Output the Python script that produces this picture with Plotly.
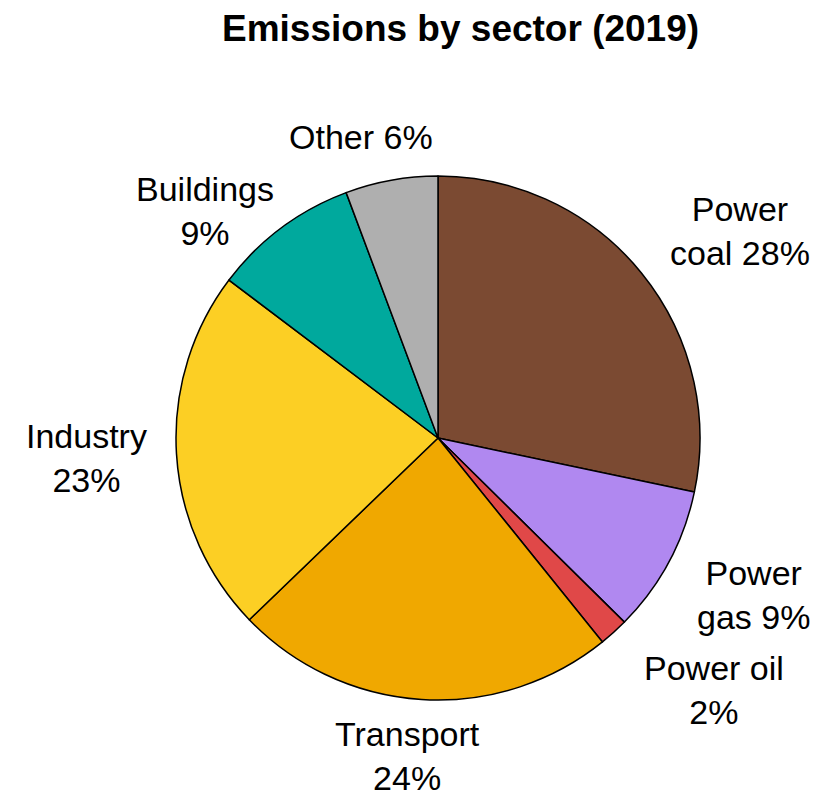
import plotly.graph_objects as go

sectors = ["Power coal", "Power gas", "Power oil", "Transport", "Industry", "Buildings", "Other"]
values = [28.3, 9.1, 1.8, 23.6, 22.5, 9.0, 5.7]
label_text = ["Power<br>coal 28%", "Power<br>gas 9%", "Power oil<br>2%", "Transport<br>24%",
              "Industry<br>23%", "Buildings<br>9%", "Other 6%"]
colors = ["#7B4A32", "#B088F0", "#E04848", "#F0A800", "#FCCF24", "#00A99D", "#AFAFAF"]

W, H = 828, 799
label_pos = [(740, 231), (753, 595), (714, 690), (407, 756), (86, 458), (205, 211), (361, 137)]

cx, cy, r = 438, 438, 262

fig = go.Figure(go.Pie(
    labels=sectors, values=values, sort=False, direction="clockwise", rotation=0,
    marker=dict(colors=colors, line=dict(color="black", width=1.5)),
    textinfo="none", hoverinfo="label+percent", showlegend=False,
    domain=dict(x=[(cx - r) / W, (cx + r) / W], y=[(H - cy - r) / H, (H - cy + r) / H]),
))

annotations = [dict(text="<b>Emissions by sector (2019)</b>", x=460 / W, y=1 - 28 / H,
                    xref="paper", yref="paper", showarrow=False,
                    font=dict(size=37, color="black"), xanchor="center", yanchor="middle")]
for t, (px, py) in zip(label_text, label_pos):
    annotations.append(dict(text=t, x=px / W, y=1 - py / H, xref="paper", yref="paper",
                            showarrow=False, font=dict(size=34, color="black"),
                            xanchor="center", yanchor="middle", align="center"))

fig.update_layout(width=W, height=H, margin=dict(l=0, r=0, t=0, b=0),
                  paper_bgcolor="white", plot_bgcolor="white",
                  font=dict(family="Liberation Sans, Arial, sans-serif"),
                  annotations=annotations)
fig.write_html("out.html")
